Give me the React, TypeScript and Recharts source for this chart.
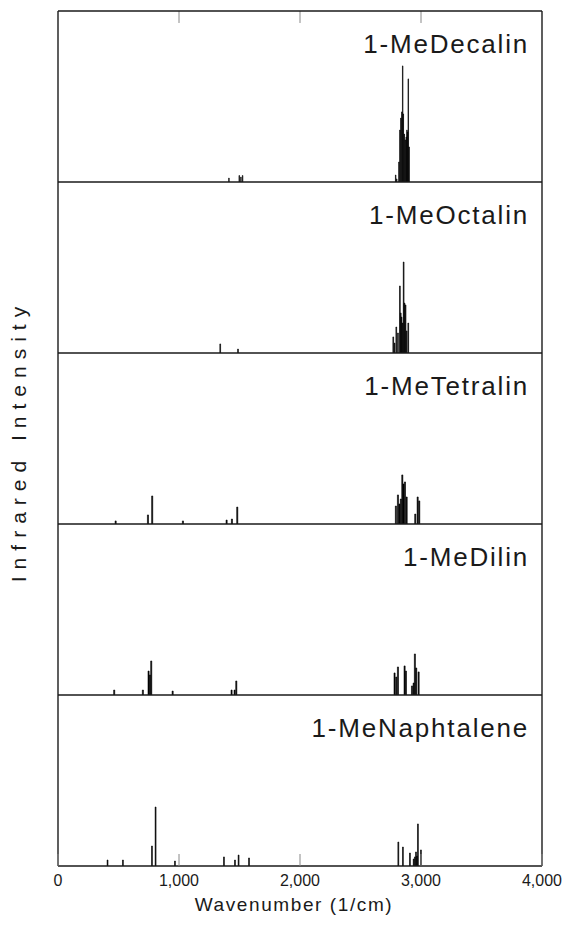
import { BarChart, Bar, XAxis, YAxis, ReferenceLine } from 'recharts';

// Calculated IR stick spectra, wavenumber (1/cm) vs relative intensity (0–100)
const decalinWn = [1413, 1498, 1512, 1526, 2791, 2800, 2818, 2826, 2834, 2842, 2849, 2854, 2862, 2870, 2878, 2884, 2889, 2895, 2902];
const decalinIr = [2.3, 3.8, 2.9, 3.8, 4.1, 1.8, 11.7, 30.4, 37.4, 41, 67.9, 39.8, 28, 24.6, 26.3, 30.4, 29.3, 60.3, 20.5];

const octalinWn = [1341, 1488, 2771, 2782, 2796, 2810, 2826, 2833, 2840, 2848, 2857, 2864, 2873, 2882, 2895];
const octalinIr = [5.3, 2.3, 9.4, 5.8, 15.2, 11.7, 39.2, 23.4, 21, 17.5, 53.2, 29.2, 28.1, 12.9, 17.5];

const tetralinWn = [477, 744, 779, 1033, 1394, 1438, 1482, 2793, 2810, 2822, 2834, 2846, 2856, 2868, 2882, 2953, 2973, 2986];
const tetralinIr = [1.8, 5.3, 16.4, 1.8, 2.3, 2.9, 9.9, 10.5, 17, 11.7, 14.6, 28.7, 23.4, 24.6, 15.8, 5.8, 15.8, 13.5];

const dilinWn = [465, 702, 749, 760, 771, 948, 1435, 1460, 1474, 2782, 2796, 2810, 2865, 2876, 2926, 2940, 2950, 2961, 2981];
const dilinIr = [2.9, 2.9, 14, 11.7, 19.9, 2.3, 2.9, 2.9, 8.2, 12.9, 10.5, 16.4, 17, 14, 5.3, 7, 24, 15.8, 13.5];

const naphWn = [410, 537, 777, 807, 967, 1372, 1463, 1493, 1579, 2813, 2851, 2909, 2940, 2950, 2959, 2967, 2975, 3000];
const naphIr = [3.5, 3.5, 11.7, 34.5, 2.9, 5.3, 3.5, 6.4, 4.7, 14, 11.1, 7.6, 4.1, 5.3, 8.2, 5.8, 24.6, 9.4];

const moleculeNames = ['1-MeDecalin', '1-MeOctalin', '1-MeTetralin', '1-MeDilin', '1-MeNaphtalene'];
const moleculeWn = [decalinWn, octalinWn, tetralinWn, dilinWn, naphWn];
const moleculeIr = [decalinIr, octalinIr, tetralinIr, dilinIr, naphIr];

const wnTicks = [0, 1000, 2000, 3000, 4000];
const innerTicks = [1000, 2000, 3000];

const W = 565;
const H = 925;
const PLOT_LEFT = 58;
const PLOT_RIGHT = 542;
const TOP = 11;
const PANEL_H = 171;
const PAD = 2; // room so frame lines on the svg edge are not clipped
const AXIS_H = 50;
const FONT = '"Liberation Sans", Arial, Helvetica, sans-serif';
const INK = '#1a1a1a';
const FRAME = { stroke: INK, strokeWidth: 1.4 };

function Panel({ index }: { index: number }) {
  const rows = moleculeWn[index].map((wn, i) => ({ wn, ir: moleculeIr[index][i] }));
  const first = index === 0;
  const last = index === moleculeNames.length - 1;
  const top = TOP + index * PANEL_H;

  return (
    <div style={{ position: 'absolute', left: 0, top: top - PAD }}>
      <BarChart
        width={W}
        height={PANEL_H + 2 * PAD + (last ? AXIS_H - PAD : 0)}
        data={rows}
        margin={{ top: PAD, right: W - PLOT_RIGHT, bottom: last ? 0 : PAD, left: PLOT_LEFT }}
      >
        {last ? (
          <XAxis
            type="number"
            dataKey="wn"
            domain={[0, 4000]}
            allowDataOverflow
            height={AXIS_H}
            ticks={wnTicks}
            interval={0}
            tickFormatter={(v: number) => v.toLocaleString('en-US')}
            tickSize={-12}
            tickMargin={21}
            tick={{ fill: INK, fontSize: 16, fontFamily: FONT }}
            tickLine={{ stroke: '#888', strokeWidth: 1 }}
            axisLine={false}
            label={{
              value: 'Wavenumber (1/cm)',
              position: 'insideBottom',
              offset: 5,
              dx: -6,
              fill: INK,
              fontSize: 19,
              fontFamily: FONT,
              letterSpacing: 1.6,
            }}
          />
        ) : (
          <XAxis
            type="number"
            dataKey="wn"
            domain={[0, 4000]}
            allowDataOverflow
            height={0}
            tick={false}
            tickLine={false}
            axisLine={false}
          />
        )}
        <YAxis type="number" domain={[0, 100]} allowDataOverflow width={0} tick={false} tickLine={false} axisLine={false} />
        <Bar dataKey="ir" fill="#000" stroke="#000" strokeWidth={0.6} barSize={2} isAnimationActive={false} />
        {first &&
          innerTicks.map((t) => (
            <ReferenceLine
              key={t}
              segment={[
                { x: t, y: 100 },
                { x: t, y: 93 },
              ]}
              stroke="#888"
              strokeWidth={1}
            />
          ))}
        {first && <ReferenceLine y={100} {...FRAME} />}
        <ReferenceLine y={0} {...FRAME} />
        <ReferenceLine x={0} {...FRAME} />
        <ReferenceLine x={4000} {...FRAME} />
      </BarChart>
      <div
        style={{
          position: 'absolute',
          right: W - 529,
          top: 20 + PAD,
          fontFamily: FONT,
          fontSize: 26,
          lineHeight: '26px',
          letterSpacing: 1.8,
          color: INK,
          whiteSpace: 'nowrap',
        }}
      >
        {moleculeNames[index]}
      </div>
    </div>
  );
}

export default function App() {
  return (
    <div style={{ position: 'absolute', left: 0, top: 0, width: W, height: H, background: '#fff' }}>
      {moleculeNames.map((name, i) => (
        <Panel key={name} index={i} />
      ))}
      <div
        style={{
          position: 'absolute',
          left: 19,
          top: 441,
          transform: 'translate(-50%, -50%) rotate(-90deg)',
          fontFamily: FONT,
          fontSize: 21,
          letterSpacing: 7,
          color: INK,
          whiteSpace: 'nowrap',
        }}
      >
        Infrared Intensity
      </div>
    </div>
  );
}
